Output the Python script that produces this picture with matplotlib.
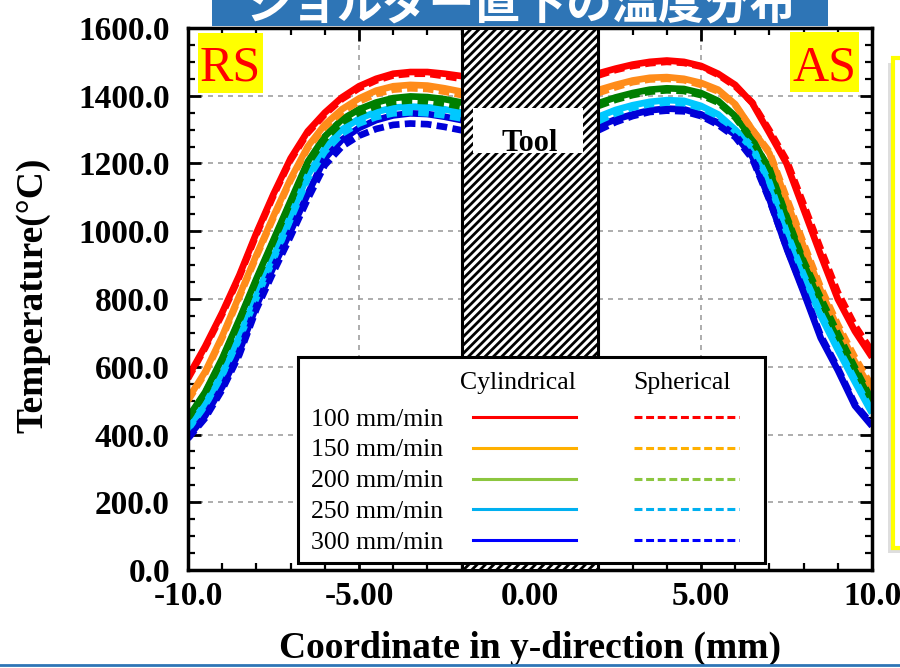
import matplotlib
matplotlib.use("Agg")
import matplotlib.pyplot as plt
from matplotlib.patches import Rectangle
from matplotlib.lines import Line2D
from matplotlib.ticker import MultipleLocator, FixedLocator, FixedFormatter

plt.rcParams['font.family'] = ['Liberation Serif', 'DejaVu Serif']
plt.rcParams['hatch.linewidth'] = 2.0

# --- data ---
x_rs = [-10, -9.5, -9, -8.5, -8, -7.5, -7, -6.5, -6, -5.5, -5, -4.5, -4, -3.5, -3, -2.5, -2]
x_as = [2, 2.5, 3, 3.5, 4, 4.5, 5, 5.5, 6, 6.5, 7, 7.5, 8, 8.5, 9, 9.5, 10]

speeds = ["100 mm/min", "150 mm/min", "200 mm/min", "250 mm/min", "300 mm/min"]

# cylindrical (solid)
cyl_rs_100 = [570, 660, 760, 870, 995, 1110, 1215, 1295, 1350, 1395, 1428, 1450, 1465, 1470, 1470, 1465, 1458]
cyl_rs_150 = [505, 585, 690, 810, 930, 1045, 1155, 1250, 1315, 1360, 1392, 1415, 1428, 1432, 1430, 1422, 1412]
cyl_rs_200 = [450, 525, 625, 740, 860, 975, 1090, 1205, 1280, 1330, 1360, 1380, 1393, 1398, 1396, 1390, 1380]
cyl_rs_250 = [420, 490, 580, 690, 810, 925, 1045, 1165, 1245, 1300, 1332, 1352, 1365, 1368, 1366, 1360, 1350]
cyl_rs_300 = [392, 455, 540, 645, 780, 895, 1000, 1110, 1215, 1270, 1305, 1328, 1342, 1348, 1346, 1338, 1328]

cyl_as_100 = [1466, 1480, 1492, 1500, 1504, 1500, 1488, 1465, 1432, 1378, 1290, 1200, 1065, 930, 800, 705, 628]
cyl_as_150 = [1417, 1432, 1445, 1453, 1455, 1450, 1438, 1418, 1375, 1300, 1230, 1090, 955, 825, 715, 615, 530]
cyl_as_200 = [1378, 1395, 1408, 1418, 1422, 1420, 1408, 1385, 1340, 1272, 1180, 1040, 905, 795, 690, 590, 493]
cyl_as_250 = [1338, 1358, 1372, 1382, 1387, 1385, 1370, 1345, 1300, 1250, 1140, 995, 865, 750, 650, 555, 463]
cyl_as_300 = [1310, 1330, 1345, 1357, 1362, 1360, 1345, 1320, 1285, 1220, 1095, 950, 820, 685, 590, 485, 425]

# spherical (dashed)
sph_rs_100 = [565, 655, 755, 865, 990, 1105, 1210, 1290, 1345, 1390, 1422, 1445, 1460, 1465, 1465, 1458, 1450]
sph_rs_150 = [500, 580, 685, 805, 925, 1040, 1150, 1245, 1308, 1352, 1383, 1405, 1418, 1422, 1420, 1412, 1402]
sph_rs_200 = [447, 522, 620, 735, 855, 970, 1085, 1198, 1272, 1322, 1350, 1370, 1382, 1386, 1384, 1377, 1368]
sph_rs_250 = [415, 485, 575, 683, 803, 918, 1035, 1155, 1235, 1288, 1318, 1337, 1348, 1351, 1348, 1342, 1333]
sph_rs_300 = [388, 448, 532, 635, 770, 880, 985, 1095, 1195, 1250, 1282, 1302, 1314, 1318, 1316, 1308, 1298]

sph_as_100 = [1460, 1476, 1488, 1496, 1500, 1497, 1486, 1462, 1428, 1380, 1298, 1210, 1080, 948, 820, 722, 645]
sph_as_150 = [1408, 1425, 1440, 1448, 1450, 1446, 1432, 1413, 1372, 1300, 1235, 1100, 965, 835, 725, 628, 542]
sph_as_200 = [1370, 1388, 1402, 1412, 1416, 1414, 1402, 1380, 1336, 1268, 1185, 1045, 912, 803, 698, 598, 500]
sph_as_250 = [1325, 1348, 1365, 1375, 1380, 1378, 1364, 1340, 1296, 1245, 1145, 998, 872, 758, 658, 562, 468]
sph_as_300 = [1298, 1322, 1340, 1352, 1356, 1354, 1340, 1314, 1278, 1214, 1092, 952, 825, 692, 596, 490, 430]

cyl_rs = [cyl_rs_100, cyl_rs_150, cyl_rs_200, cyl_rs_250, cyl_rs_300]
cyl_as = [cyl_as_100, cyl_as_150, cyl_as_200, cyl_as_250, cyl_as_300]
sph_rs = [sph_rs_100, sph_rs_150, sph_rs_200, sph_rs_250, sph_rs_300]
sph_as = [sph_as_100, sph_as_150, sph_as_200, sph_as_250, sph_as_300]

line_colors = ['#FF0000', '#FF8C1A', '#007F00', '#00C8FF', '#0000D8']
legend_colors = ['#FF0000', '#FFB000', '#8CC63F', '#00B0F0', '#0000FF']

x_ticks = [-10, -5, 0, 5, 10]
x_ticklabels = ['-10.0', '-5.00', '0.00', '5.00', '10.0']
y_ticks = [0, 200, 400, 600, 800, 1000, 1200, 1400, 1600]
y_ticklabels = ['%.1f' % v for v in y_ticks]
tool_x = (-2, 2)

BLUE = '#2E75B6'

fig = plt.figure(figsize=(9, 6.68), dpi=100)
ax = fig.add_axes([0.2089, 0.1467, 0.76, 0.8114])

# slide decorations
fig.patches.append(Rectangle((212 / 900, 1 - 26 / 668), (828 - 212) / 900, 0.1,
                             transform=fig.transFigure, facecolor=BLUE, edgecolor='none'))
fig.text(0.578, 1 - 19 / 668, 'ショルダー直下の温度分布', color='white', fontsize=33,
         ha='center', va='baseline', weight='bold',
         family=['Noto Sans CJK JP', 'DejaVu Sans'])
fig.patches.append(Rectangle((0.9922 - 0.006, 0.172), 0.05, 0.7335,
                             transform=fig.transFigure, facecolor='#C8C8C8',
                             edgecolor='none', alpha=0.6))
fig.patches.append(Rectangle((0.9922, 0.1796), 0.05, 0.7335,
                             transform=fig.transFigure, facecolor='white',
                             edgecolor='#FFFF00', linewidth=3))
fig.lines.append(Line2D([0, 1], [0.004, 0.004], transform=fig.transFigure,
                        color=BLUE, linewidth=2))

# curves
for i in range(5):
    ax.plot(x_rs, cyl_rs[i], color=line_colors[i], lw=4.8, solid_capstyle='butt', zorder=2)
    ax.plot(x_as, cyl_as[i], color=line_colors[i], lw=4.8, solid_capstyle='butt', zorder=2)
for i in range(5):
    ax.plot(x_rs, sph_rs[i], color=line_colors[i], lw=4.8, ls=(0, (1.6, 0.8)), zorder=2.1)
    ax.plot(x_as, sph_as[i], color=line_colors[i], lw=4.8, ls=(0, (1.6, 0.8)), zorder=2.1)

# tool region
ax.add_patch(Rectangle((tool_x[0], 0), tool_x[1] - tool_x[0], 1600, facecolor='white',
                       edgecolor='black', hatch='////', linewidth=2.2, zorder=3))
ax.add_patch(Rectangle((-1.67, 1231), 3.22, 133, facecolor='white', edgecolor='none', zorder=4))
ax.text(0, 1236, 'Tool', fontsize=22, weight='bold', ha='center', va='baseline', zorder=5)

# RS / AS labels
ax.add_patch(Rectangle((0.0146, 0.880), 0.095, 0.1107, transform=ax.transAxes,
                       facecolor='#FFFF00', edgecolor='none', zorder=5))
ax.text(0.0614, 0.904, 'RS', transform=ax.transAxes, color='red', fontsize=36,
        ha='center', va='baseline', zorder=6)
ax.add_patch(Rectangle((0.880, 0.882), 0.101, 0.1107, transform=ax.transAxes,
                       facecolor='#FFFF00', edgecolor='none', zorder=5))
ax.text(0.930, 0.904, 'AS', transform=ax.transAxes, color='red', fontsize=36,
        ha='center', va='baseline', zorder=6)

# custom legend
ax.add_patch(Rectangle((0.1608, 0.0129), 0.6828, 0.3801, transform=ax.transAxes,
                       facecolor='white', edgecolor='black', linewidth=2.2, zorder=6))
ax.text(0.4825, 0.334, 'Cylindrical', transform=ax.transAxes, fontsize=18.5,
        ha='center', va='baseline', zorder=7)
ax.text(0.722, 0.334, 'Spherical', transform=ax.transAxes, fontsize=18.5,
        ha='center', va='baseline', zorder=7)
for i, lab in enumerate(speeds):
    y_line = (570 - (417 + 30.8 * i)) / 542
    ax.text(0.1798, y_line - 0.016, lab, transform=ax.transAxes, fontsize=18.5,
            ha='left', va='baseline', zorder=7)
    ax.add_line(Line2D([0.4167, 0.5673], [y_line, y_line], transform=ax.transAxes,
                       color=legend_colors[i], lw=2.2, zorder=7))
    ax.add_line(Line2D([0.652, 0.8055], [y_line, y_line], transform=ax.transAxes,
                       color=legend_colors[i], lw=2.2, ls=(0, (2.6, 1.2)), zorder=7))

# axes styling
ax.set_xlim(-10, 10)
ax.set_ylim(0, 1600)
ax.xaxis.set_major_locator(FixedLocator(x_ticks))
ax.xaxis.set_major_formatter(FixedFormatter(x_ticklabels))
ax.xaxis.set_minor_locator(MultipleLocator(1))
ax.yaxis.set_major_locator(FixedLocator(y_ticks))
ax.yaxis.set_major_formatter(FixedFormatter(y_ticklabels))
ax.yaxis.set_minor_locator(MultipleLocator(50))
ax.tick_params(which='both', direction='in', top=True, right=True)
ax.tick_params(which='major', length=9, width=2, labelsize=24)
ax.tick_params(axis='y', which='major', pad=13)
ax.tick_params(axis='x', which='major', pad=8)
ax.tick_params(which='minor', length=5, width=1.6)
for lab in ax.get_xticklabels() + ax.get_yticklabels():
    lab.set_fontweight('bold')
for sp in ax.spines.values():
    sp.set_linewidth(2.5)
ax.grid(True, which='major', color='#A0A0A0', linestyle=(0, (3, 3)), linewidth=1.2, zorder=0)
ax.set_axisbelow(True)

ax.set_xlabel('Coordinate in y-direction (mm)', fontsize=27, weight='bold')
ax.xaxis.set_label_coords(0.5, -0.112)
ax.set_ylabel('Temperature(°C)', fontsize=27, weight='bold')
ax.yaxis.set_label_coords(-0.2018, 0.507)

fig.savefig('out.png', dpi=100)
